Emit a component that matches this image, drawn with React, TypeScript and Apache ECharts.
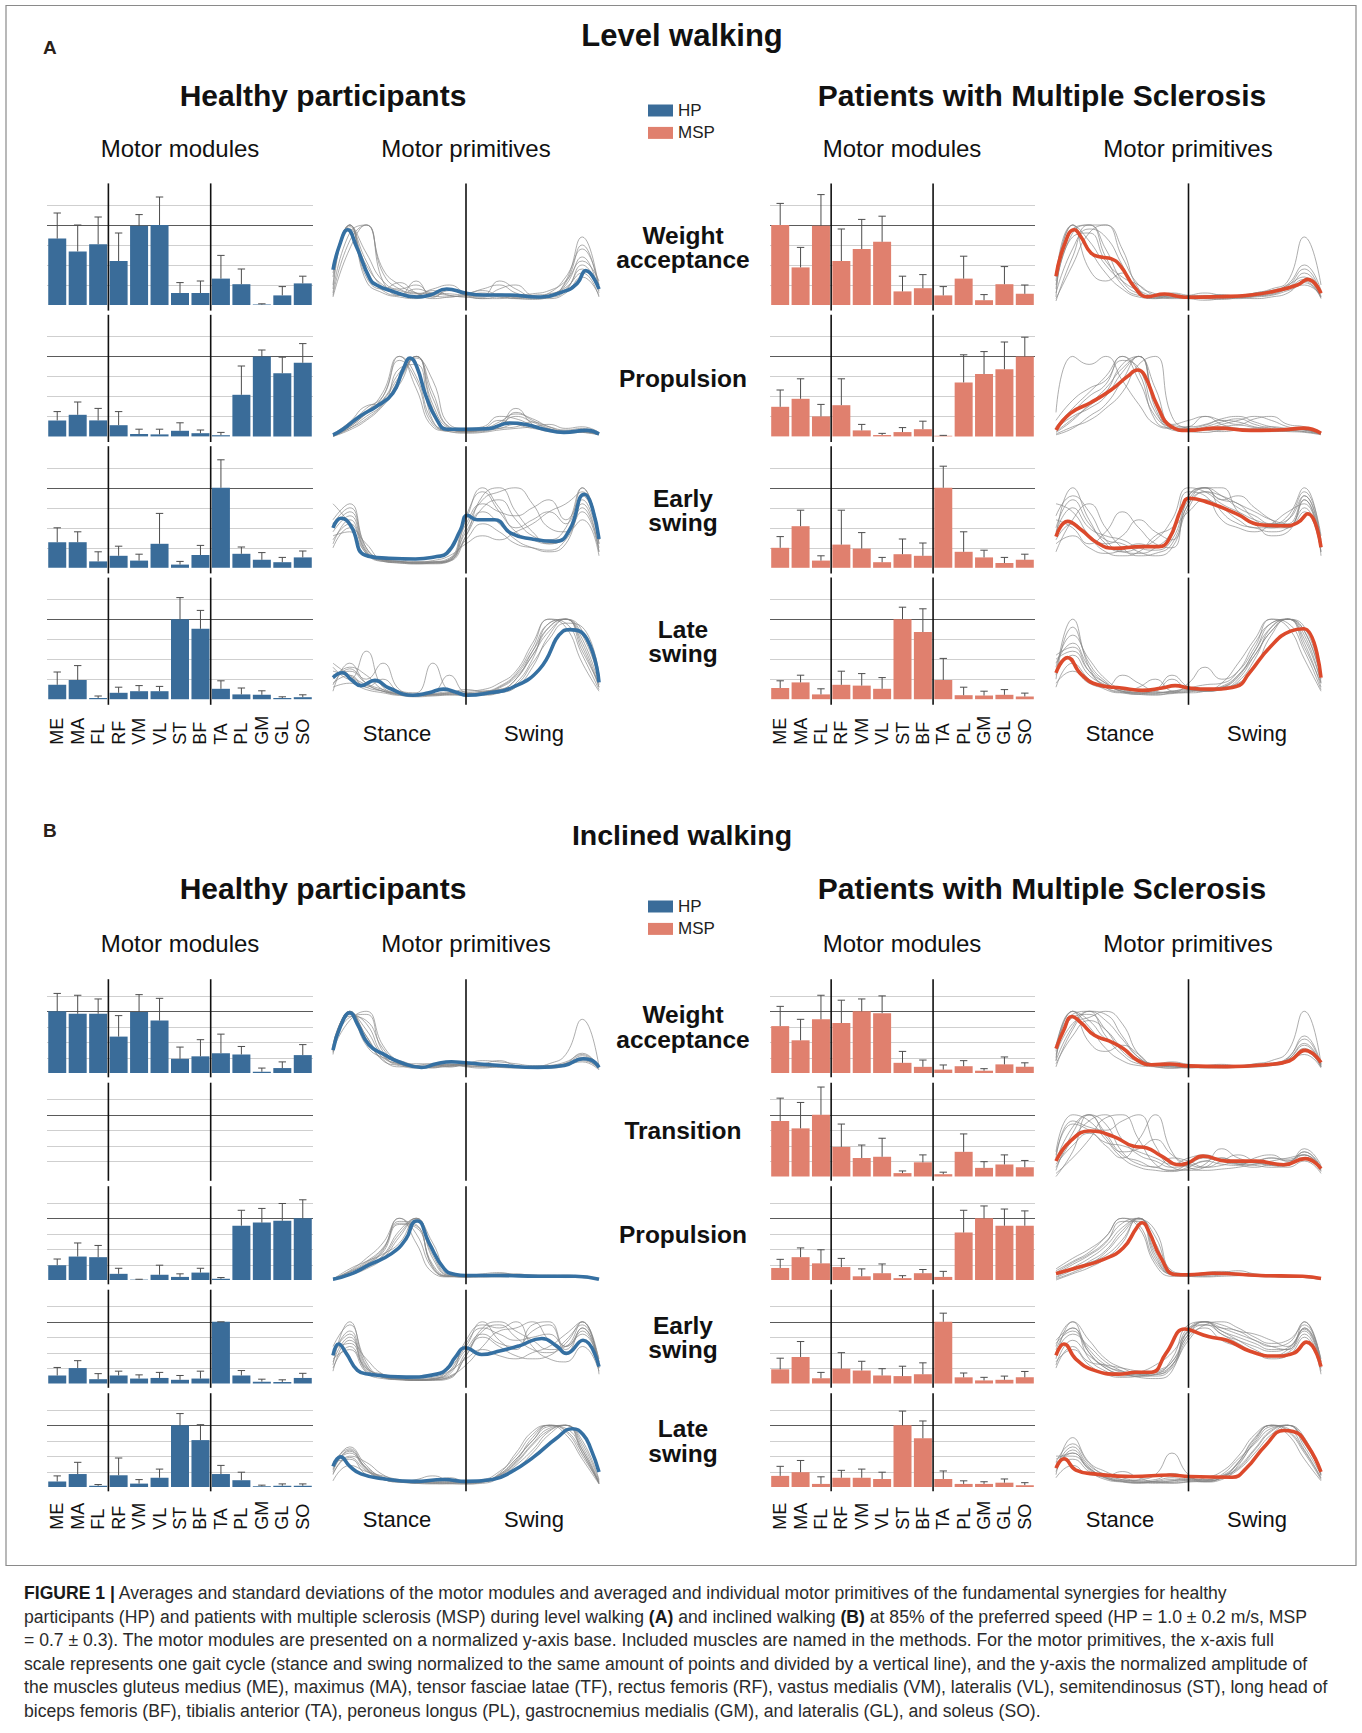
import React, { useEffect, useRef } from 'react';
import * as echarts from 'echarts';

// ---------- categories & ticks ----------
const muscles = ['ME', 'MA', 'FL', 'RF', 'VM', 'VL', 'ST', 'BF', 'TA', 'PL', 'GM', 'GL', 'SO'];
const gridValues = [25, 50, 75, 100, 125];
const groupBreaks = [2, 7]; // after FL (hip) and after BF (thigh)
const phaseBreak = [100]; // stance | swing
const primX = [0, 12.5, 25, 37.5, 50, 62.5, 75, 87.5, 100, 112.5, 125, 137.5, 150, 162.5, 175, 187.5, 200];

// ---------- A: level walking, motor modules (mean, mean+SD) ----------
const levelHP_WA_mean = [83, 67, 76, 55, 99, 100, 15, 15, 33, 26, 0.5, 12, 27];
const levelHP_WA_upper = [115, 100, 110, 90, 113, 135, 28, 30, 62, 45, 1.5, 23, 36];
const levelHP_PR_mean = [20, 27, 20, 14, 3, 2.5, 7, 4, 1.5, 52, 100, 79, 92];
const levelHP_PR_upper = [31, 43, 35, 31, 9, 9, 17, 8, 5, 88, 108, 99, 116];
const levelHP_ES_mean = [32, 32, 8, 15, 9, 30, 4, 16, 100, 17.5, 10, 7, 13];
const levelHP_ES_upper = [50, 45, 20, 27, 17, 68, 8, 28, 135, 26, 19, 13, 21];
const levelHP_LS_mean = [18, 24, 1.5, 8, 10, 10, 100, 88, 13, 6, 5.5, 1.5, 2.5];
const levelHP_LS_upper = [34, 42, 4, 15, 17, 16, 127, 111, 23, 14, 10.5, 3, 5.5];

const levelMSP_WA_mean = [100, 47, 99, 55, 70, 79, 17, 21, 12, 33, 6, 26, 14];
const levelMSP_WA_upper = [127, 72, 138, 95, 107, 111, 36, 38, 23, 61, 13, 48, 25];
const levelMSP_PR_mean = [37, 47, 25, 39, 7.5, 1.7, 5.4, 9, 0.8, 67.5, 78, 84, 100];
const levelMSP_PR_upper = [58, 72, 40, 72, 15, 3.8, 11, 19, 1.3, 102, 106, 118, 124];
const levelMSP_ES_mean = [25, 52, 9, 29, 24, 7, 17, 15, 100, 20, 13, 6, 10];
const levelMSP_ES_upper = [39, 72, 15, 72, 44, 13, 36, 31, 127, 45, 22, 13, 17];
const levelMSP_LS_mean = [14, 21, 6, 18, 17, 13, 100, 84, 24, 5, 4.6, 5.5, 3.4];
const levelMSP_LS_upper = [23, 30, 13, 35, 32, 27, 115, 113, 51, 15, 10, 12, 7.6];

// ---------- B: inclined walking, motor modules ----------
const inclHP_WA_mean = [100, 96, 96, 59, 99, 85, 23, 27, 32, 30, 2, 8, 29];
const inclHP_WA_upper = [129, 126, 120, 93, 127, 121, 42, 54, 63, 43, 8, 18, 46];
const inclHP_PR_mean = [24, 38, 37, 10, 0.6, 8.5, 5, 12, 2, 88, 93, 96, 100];
const inclHP_PR_upper = [34, 60, 56, 19, 1.2, 24, 10, 19, 4, 113, 116, 124, 130];
const inclHP_ES_mean = [13, 25, 7, 13, 8, 9, 6, 8, 100, 13, 3, 2.4, 9];
const inclHP_ES_upper = [26, 37, 16, 20, 14, 18, 13, 20, 100, 21, 7, 6, 16.5];
const inclHP_LS_mean = [9, 21, 2, 19, 5.5, 15, 100, 76, 21, 11, 1.2, 2, 2];
const inclHP_LS_upper = [18, 40, 4, 47, 12, 29, 119, 101, 35, 24, 3, 5, 5];

const inclMSP_WA_mean = [76, 53, 87, 81, 100, 97, 16.5, 10, 5.5, 11, 3.7, 14, 10];
const inclMSP_WA_upper = [108, 87, 126, 118, 120, 125, 35, 21, 13, 20, 7, 26, 16.5];
const inclMSP_TR_mean = [90, 78, 100, 48, 30, 32, 5.5, 23, 3.7, 40, 14, 19.5, 15];
const inclMSP_TR_upper = [127, 120, 145, 85, 51, 62, 9, 35, 7, 69, 24, 35, 26];
const inclMSP_PR_mean = [19.5, 37, 27, 21, 6, 11, 3, 11, 5, 77, 100, 88, 88];
const inclMSP_PR_upper = [33.5, 52, 49, 35, 18, 26, 7, 17, 14, 113, 120, 115, 112];
const inclMSP_ES_mean = [23, 43, 8.5, 24, 21, 13, 12, 15, 100, 10, 5, 6, 10];
const inclMSP_ES_upper = [41, 68, 18, 50, 36, 24, 28, 33.5, 114, 17, 10, 12, 19.5];
const inclMSP_LS_mean = [18, 24, 5, 15, 15, 13, 100, 79, 13, 5, 5, 7, 3];
const inclMSP_LS_upper = [33.5, 43, 16.5, 27, 29, 24, 123, 107, 26, 10, 8.5, 13, 7];

// ---------- motor primitives: averaged curves [gait-cycle point, amplitude] ----------
const levelHP_WA_prim = [[0, 44], [5, 75], [11, 94], [17.6, 73], [27.7, 33], [32.7, 25], [45, 17], [63, 10], [73, 12.5], [85.5, 20], [99.4, 15], [113, 12.5], [133, 12.5], [153.5, 10], [173.6, 17], [183.6, 27], [190, 43], [200, 20]];
const levelHP_PR_prim = [[0, 2], [7.5, 9], [20, 25], [32.7, 37.5], [45, 54], [53, 85], [58, 98], [63, 87], [70, 50], [78, 21], [85.5, 9], [99.4, 9], [115.7, 9.6], [133, 16.7], [146, 14.6], [158.5, 9], [173.6, 5], [191, 7.5], [200, 3]];
const levelHP_ES_prim = [[0, 50], [6, 62], [13.6, 52], [24, 16], [42, 12], [62, 11], [78, 14], [85.5, 18], [95.8, 47], [100.9, 65.5], [108.6, 60], [121.4, 60], [134, 43], [149.7, 36], [167.6, 33], [177.9, 47.5], [189, 92], [194, 80], [200, 36]];
const levelHP_LS_prim = [[0, 27], [7, 33], [14, 24], [21, 17], [31.5, 23.5], [42, 14], [60, 5], [72, 8], [83, 12.6], [92, 9], [101, 5], [119, 8.4], [134, 14], [155, 37], [173, 85], [178, 87], [191, 75], [200, 21]];
const levelMSP_WA_prim = [[0, 36], [6.3, 75], [13.8, 94], [18.9, 85], [26.4, 65], [34, 60], [41.5, 58], [49, 48], [59, 23], [69, 10.4], [81.8, 13.8], [91.8, 11], [99.4, 9.6], [122, 10.4], [147, 12.5], [167, 18], [182, 25], [190, 32], [200, 14.6]];
const levelMSP_PR_prim = [[0, 8], [11, 29], [26, 42], [41.5, 58], [54, 75], [61.6, 83], [66.7, 77], [76.7, 37.5], [86.8, 12.5], [99.4, 7.5], [122, 10.4], [147, 7.5], [172, 8.3], [187, 10.4], [200, 4]];
const levelMSP_ES_prim = [[0, 39], [8.7, 58], [19, 47.5], [31.6, 30.7], [44, 24.4], [65, 26.5], [77.5, 26.5], [85, 35], [95.4, 77], [100.5, 87], [116, 81], [136, 67.6], [154, 53.8], [172, 52.5], [182, 56], [190, 67.6], [200, 25.6]];
const levelMSP_LS_prim = [[0, 33], [8.7, 52], [19, 31], [31.6, 18], [49.5, 14], [65, 11], [80, 14], [90, 17], [100.5, 14], [116, 12.6], [136, 16], [146, 33], [162, 66], [177, 85], [187, 88], [200, 27]];

const inclHP_WA_prim = [[0, 37], [5.7, 76], [12.7, 97.6], [18.4, 79], [27, 45.7], [38, 30.5], [49.5, 18.3], [66.5, 9], [77.8, 15], [89, 18.3], [99.6, 16.5], [126, 12.2], [154, 9.1], [174, 12.2], [188, 23], [194, 21], [200, 9]];
const inclHP_PR_prim = [[0, 1.2], [12.7, 9], [27, 24.4], [44, 42.7], [55, 67], [61, 94.5], [63.6, 95.7], [72, 61], [83.5, 18.3], [92, 9], [99.6, 7.3], [126, 7.3], [154, 6], [182, 6], [200, 1.2]];
const inclHP_ES_prim = [[0, 45.7], [4.2, 64], [10, 48.8], [18.4, 21.3], [27, 15.2], [55, 10.4], [78, 15.2], [86, 24.4], [92, 42.7], [99.6, 58], [111.7, 47], [126, 53], [140, 61], [157, 73], [168, 61], [175.4, 48.8], [188, 70], [200, 27.4]];
const inclHP_LS_prim = [[0, 33.5], [5.7, 48.8], [12.7, 33.5], [21, 21.3], [38, 13.4], [61, 9.1], [83.5, 12.2], [99.6, 9.1], [120, 12.2], [134, 24.4], [151, 48.8], [168, 79], [180, 94.5], [188, 85], [194, 61], [200, 24.4]];
const inclMSP_WA_prim = [[0, 39.6], [6, 70], [12, 91.5], [18.6, 82], [29, 61], [40, 52], [50.7, 39.6], [61, 21.3], [72, 13.4], [86, 14.6], [99.6, 11.6], [129, 10.4], [158, 13.4], [176, 19.5], [188, 36.6], [200, 17]];
const inclMSP_TR_prim = [[0, 25], [11.4, 58.5], [25.7, 73.8], [43.6, 64.6], [58, 49.4], [68.6, 46.3], [79, 34], [93.6, 19], [99.6, 22], [111, 33], [129, 25], [151, 25], [172, 19], [188, 29], [200, 12.8]];
const inclMSP_PR_prim = [[0, 10.4], [15, 19.5], [36, 33.5], [50.7, 51.8], [61, 85], [65, 92.7], [70, 79], [79, 36.6], [90, 9], [99.6, 8.5], [118.6, 11], [154, 7.3], [186, 6], [200, 2.4]];
const inclMSP_ES_prim = [[0, 45.7], [6, 64], [15, 39.6], [29, 21.3], [47, 15.2], [61, 18.3], [72, 18.3], [83, 48.8], [97, 88.4], [100.7, 87], [115, 76], [129, 70], [147, 51.8], [165, 44.5], [179, 48.8], [189, 67], [200, 27.4]];
const inclMSP_LS_prim = [[0, 30.5], [6, 45.7], [15, 27.4], [29, 21.3], [58, 17], [86, 19.5], [100.7, 17], [133, 15.9], [143.6, 30.5], [158, 67], [172, 91.5], [179, 90], [190, 67], [200, 24.4]];

// ---------- motor primitives: individual curves (amplitude at primX) ----------
const levelHP_WA_indiv = [
  [20, 100, 55, 22, 15, 12, 18, 12, 10, 8, 10, 8, 7, 10, 25, 60, 15],
  [45, 100, 40, 18, 12, 20, 15, 14, 12, 10, 12, 9, 8, 10, 30, 85, 20],
  [10, 70, 100, 45, 25, 15, 10, 20, 15, 20, 25, 15, 10, 12, 20, 45, 25],
  [35, 100, 35, 20, 28, 15, 8, 10, 12, 15, 10, 8, 12, 14, 22, 40, 10],
  [15, 90, 100, 30, 12, 30, 10, 18, 15, 12, 30, 20, 10, 8, 15, 35, 12],
  [50, 98, 30, 15, 10, 8, 15, 20, 12, 8, 8, 12, 14, 18, 30, 55, 30],
  [25, 100, 65, 30, 20, 25, 12, 10, 14, 18, 12, 10, 9, 12, 28, 75, 18],
  [40, 95, 50, 25, 18, 14, 20, 25, 15, 12, 14, 10, 10, 15, 35, 70, 25],
  [12, 80, 100, 40, 20, 15, 14, 12, 10, 10, 20, 25, 12, 10, 18, 50, 20],
];
const levelHP_PR_indiv = [
  [2, 15, 35, 50, 95, 70, 15, 8, 8, 10, 20, 15, 10, 8, 5, 8, 3],
  [0, 12, 28, 45, 75, 100, 40, 10, 6, 8, 12, 30, 20, 10, 6, 5, 2],
  [3, 18, 38, 42, 85, 90, 20, 6, 5, 6, 10, 12, 18, 12, 8, 10, 4],
  [1, 10, 22, 40, 70, 100, 55, 12, 8, 10, 15, 35, 15, 6, 5, 6, 2],
  [2, 14, 30, 50, 100, 60, 12, 6, 4, 5, 8, 10, 12, 15, 10, 12, 5],
  [0, 8, 20, 38, 65, 98, 70, 15, 10, 12, 25, 22, 14, 8, 4, 5, 2],
  [1, 12, 30, 55, 100, 75, 18, 8, 6, 7, 14, 25, 18, 9, 6, 7, 3],
  [2, 16, 32, 46, 80, 100, 35, 9, 7, 9, 18, 28, 22, 12, 7, 8, 3],
  [0, 10, 25, 40, 72, 100, 48, 11, 6, 8, 10, 15, 12, 9, 6, 6, 2],
];
const levelHP_ES_indiv = [
  [30, 60, 20, 8, 6, 5, 6, 8, 40, 90, 100, 70, 45, 30, 40, 85, 30],
  [60, 80, 25, 10, 8, 6, 7, 10, 60, 100, 75, 50, 60, 70, 55, 100, 40],
  [40, 45, 15, 12, 10, 8, 8, 12, 35, 55, 45, 30, 25, 22, 35, 70, 20],
  [80, 55, 18, 8, 7, 6, 6, 9, 50, 85, 95, 100, 80, 50, 45, 60, 15],
  [25, 50, 30, 10, 8, 7, 9, 15, 30, 40, 35, 45, 55, 70, 80, 95, 35],
  [50, 70, 22, 9, 6, 5, 5, 8, 45, 70, 55, 35, 25, 20, 30, 75, 25],
  [45, 65, 20, 10, 8, 6, 7, 10, 55, 80, 70, 65, 75, 85, 60, 90, 30],
  [35, 55, 18, 9, 7, 6, 6, 9, 40, 75, 85, 60, 40, 35, 50, 100, 35],
  [55, 75, 25, 11, 8, 7, 7, 11, 65, 95, 70, 45, 35, 30, 40, 80, 20],
];
const levelHP_LS_indiv = [
  [10, 45, 20, 10, 5, 3, 4, 5, 5, 6, 8, 15, 40, 80, 100, 70, 15],
  [40, 25, 60, 15, 8, 5, 6, 8, 10, 12, 20, 35, 70, 100, 90, 45, 10],
  [20, 30, 15, 25, 10, 8, 45, 10, 5, 5, 8, 20, 50, 95, 100, 60, 20],
  [30, 35, 20, 12, 6, 4, 5, 6, 6, 8, 15, 30, 60, 90, 100, 80, 25],
  [15, 20, 12, 8, 5, 5, 8, 30, 8, 6, 10, 25, 55, 85, 100, 75, 18],
  [45, 30, 18, 10, 7, 5, 6, 7, 8, 10, 12, 18, 45, 75, 95, 90, 30],
  [25, 40, 30, 12, 7, 5, 6, 8, 12, 10, 12, 25, 60, 95, 100, 65, 15],
  [35, 28, 15, 10, 6, 5, 7, 9, 7, 8, 14, 28, 55, 90, 100, 85, 22],
  [18, 38, 25, 45, 12, 6, 5, 6, 7, 9, 16, 32, 65, 100, 95, 55, 12],
];
const levelMSP_WA_indiv = [
  [10, 100, 70, 40, 20, 10, 8, 12, 10, 8, 10, 12, 15, 20, 30, 85, 25],
  [30, 95, 100, 60, 25, 12, 10, 8, 8, 10, 12, 10, 12, 15, 25, 35, 10],
  [5, 60, 100, 100, 70, 20, 10, 15, 12, 10, 8, 8, 10, 12, 18, 25, 12],
  [40, 100, 45, 30, 40, 15, 8, 10, 12, 15, 12, 10, 8, 10, 15, 30, 8],
  [20, 85, 90, 55, 35, 25, 12, 10, 8, 6, 8, 10, 15, 18, 22, 40, 15],
  [15, 70, 95, 85, 50, 15, 10, 14, 10, 8, 7, 9, 11, 14, 20, 28, 10],
  [25, 90, 100, 70, 30, 14, 10, 9, 9, 11, 13, 11, 13, 16, 24, 45, 14],
  [35, 100, 80, 50, 30, 18, 12, 12, 10, 9, 10, 12, 14, 18, 26, 50, 18],
  [8, 50, 90, 100, 60, 25, 14, 10, 11, 12, 10, 9, 11, 13, 21, 32, 9],
];
const levelMSP_PR_indiv = [
  [30, 100, 90, 100, 70, 40, 15, 10, 12, 25, 20, 15, 22, 25, 15, 12, 5],
  [5, 20, 40, 60, 85, 100, 35, 8, 6, 5, 8, 10, 8, 7, 6, 5, 2],
  [2, 10, 25, 40, 70, 100, 60, 12, 8, 10, 15, 20, 25, 20, 12, 8, 3],
  [8, 30, 50, 65, 100, 80, 20, 10, 8, 12, 18, 22, 15, 10, 8, 6, 3],
  [3, 12, 20, 35, 55, 90, 100, 25, 10, 8, 6, 8, 10, 12, 10, 8, 4],
  [10, 25, 35, 50, 80, 100, 45, 15, 20, 25, 15, 10, 8, 6, 7, 9, 5],
  [12, 35, 55, 75, 100, 70, 25, 12, 10, 14, 20, 18, 12, 9, 8, 10, 4],
  [6, 22, 38, 55, 90, 100, 40, 10, 8, 9, 12, 14, 11, 8, 7, 6, 3],
  [20, 45, 60, 70, 95, 85, 30, 14, 12, 15, 22, 25, 18, 12, 9, 8, 4],
];
const levelMSP_ES_indiv = [
  [40, 100, 60, 30, 20, 25, 35, 60, 100, 95, 80, 70, 60, 55, 65, 100, 30],
  [60, 50, 30, 45, 70, 50, 30, 25, 90, 100, 85, 90, 75, 60, 50, 70, 20],
  [20, 60, 80, 50, 25, 15, 18, 30, 80, 100, 100, 70, 55, 40, 45, 85, 25],
  [80, 70, 40, 20, 15, 20, 40, 50, 70, 85, 75, 60, 50, 50, 60, 95, 40],
  [30, 40, 25, 18, 22, 30, 25, 40, 95, 90, 60, 50, 45, 55, 70, 80, 15],
  [50, 85, 55, 35, 30, 20, 15, 25, 75, 95, 90, 80, 70, 60, 55, 90, 30],
  [45, 75, 50, 40, 35, 25, 22, 35, 85, 100, 90, 75, 65, 55, 60, 90, 35],
  [65, 90, 70, 35, 20, 18, 25, 45, 90, 100, 70, 55, 50, 45, 50, 75, 20],
  [35, 55, 40, 30, 40, 60, 45, 35, 80, 95, 85, 80, 60, 50, 50, 85, 30],
];
const levelMSP_LS_indiv = [
  [30, 100, 40, 15, 8, 6, 5, 8, 10, 12, 15, 30, 60, 95, 100, 70, 15],
  [50, 60, 35, 20, 10, 8, 12, 30, 15, 10, 12, 25, 55, 85, 100, 85, 25],
  [15, 45, 25, 12, 8, 15, 25, 10, 8, 10, 20, 45, 75, 100, 95, 60, 12],
  [40, 80, 50, 25, 12, 8, 6, 7, 9, 12, 15, 20, 40, 80, 100, 90, 30],
  [20, 35, 20, 15, 30, 20, 10, 8, 20, 40, 25, 35, 65, 100, 90, 50, 10],
  [35, 55, 30, 18, 10, 7, 8, 10, 12, 10, 12, 22, 50, 90, 100, 80, 20],
  [45, 70, 40, 20, 12, 10, 8, 10, 14, 18, 20, 35, 70, 95, 100, 65, 20],
  [25, 90, 45, 22, 10, 8, 10, 25, 12, 10, 14, 28, 60, 90, 100, 75, 22],
  [55, 65, 35, 15, 9, 6, 7, 9, 11, 12, 16, 30, 55, 85, 100, 85, 28],
];
const inclHP_WA_indiv = [
  [35, 100, 60, 20, 12, 8, 10, 15, 12, 10, 9, 8, 10, 15, 30, 87, 10],
  [40, 90, 95, 35, 15, 10, 12, 10, 15, 20, 18, 15, 12, 12, 15, 20, 8],
  [30, 100, 45, 25, 20, 12, 8, 14, 10, 8, 10, 9, 8, 10, 14, 22, 6],
  [45, 95, 80, 30, 14, 15, 14, 12, 14, 12, 12, 10, 9, 8, 12, 25, 12],
  [38, 85, 100, 45, 18, 10, 9, 11, 16, 14, 11, 10, 10, 12, 18, 30, 10],
  [42, 100, 55, 22, 10, 12, 15, 10, 13, 15, 20, 12, 9, 9, 13, 18, 5],
  [36, 98, 70, 28, 14, 10, 11, 13, 12, 11, 10, 9, 9, 10, 14, 24, 8],
  [44, 92, 85, 40, 16, 12, 10, 12, 14, 13, 12, 11, 10, 11, 15, 28, 10],
  [33, 100, 60, 25, 15, 11, 12, 14, 11, 10, 11, 10, 10, 11, 16, 32, 9],
];
const inclHP_PR_indiv = [
  [0, 10, 25, 45, 90, 85, 25, 6, 5, 8, 10, 8, 6, 5, 4, 5, 1],
  [2, 15, 35, 60, 100, 60, 12, 5, 6, 5, 7, 9, 8, 6, 5, 6, 2],
  [1, 8, 18, 35, 70, 100, 45, 8, 5, 6, 8, 6, 5, 7, 8, 5, 1],
  [0, 12, 28, 50, 95, 90, 20, 6, 7, 10, 12, 8, 6, 5, 6, 4, 1],
  [3, 10, 22, 40, 80, 100, 35, 7, 6, 5, 5, 6, 8, 8, 6, 5, 2],
  [1, 18, 30, 42, 60, 98, 60, 10, 5, 6, 9, 10, 7, 5, 4, 4, 1],
  [2, 14, 30, 52, 92, 88, 22, 6, 6, 7, 9, 7, 6, 5, 5, 5, 1],
  [1, 9, 20, 38, 75, 100, 40, 7, 5, 6, 8, 7, 6, 6, 5, 4, 1],
  [0, 13, 26, 48, 100, 75, 18, 6, 6, 6, 7, 8, 7, 6, 5, 5, 2],
];
const inclHP_ES_indiv = [
  [30, 100, 35, 10, 6, 5, 6, 10, 45, 90, 100, 85, 70, 55, 60, 100, 25],
  [50, 80, 20, 12, 8, 6, 7, 25, 60, 100, 70, 55, 95, 100, 60, 80, 35],
  [25, 60, 25, 15, 10, 8, 10, 20, 40, 55, 45, 40, 50, 60, 80, 100, 15],
  [60, 95, 30, 10, 7, 6, 8, 15, 70, 95, 90, 100, 60, 40, 35, 60, 20],
  [40, 55, 18, 8, 6, 5, 6, 12, 30, 60, 85, 90, 100, 70, 50, 90, 40],
  [20, 70, 40, 15, 8, 6, 5, 8, 50, 75, 60, 45, 40, 45, 70, 95, 30],
  [45, 85, 28, 12, 7, 6, 7, 18, 55, 80, 65, 60, 85, 95, 55, 85, 30],
  [35, 75, 25, 10, 7, 5, 6, 10, 45, 85, 95, 75, 55, 50, 65, 100, 35],
  [55, 65, 22, 11, 8, 6, 8, 20, 65, 90, 80, 70, 75, 80, 60, 90, 25],
];
const inclHP_LS_indiv = [
  [25, 60, 30, 15, 10, 8, 6, 5, 5, 8, 20, 45, 75, 100, 95, 60, 5],
  [40, 45, 20, 12, 8, 6, 10, 15, 10, 12, 25, 50, 85, 100, 90, 50, 8],
  [10, 35, 25, 18, 12, 10, 8, 6, 5, 6, 15, 35, 60, 90, 100, 70, 10],
  [30, 65, 35, 14, 8, 12, 18, 10, 6, 8, 18, 40, 70, 95, 100, 55, 6],
  [20, 50, 40, 20, 10, 6, 5, 6, 8, 10, 22, 55, 90, 100, 85, 45, 5],
  [35, 55, 28, 12, 9, 7, 8, 9, 8, 9, 16, 30, 55, 85, 100, 75, 12],
  [28, 58, 32, 16, 10, 7, 7, 7, 7, 9, 19, 42, 80, 100, 92, 55, 6],
  [22, 48, 26, 14, 9, 8, 9, 10, 8, 10, 20, 45, 75, 98, 100, 60, 8],
  [38, 62, 30, 13, 8, 7, 6, 7, 7, 8, 17, 38, 68, 92, 100, 65, 7],
];
const inclMSP_WA_indiv = [
  [20, 100, 75, 40, 20, 12, 10, 8, 10, 12, 14, 12, 15, 20, 35, 100, 15],
  [40, 95, 100, 95, 60, 25, 12, 10, 8, 10, 12, 10, 10, 12, 18, 40, 10],
  [10, 70, 100, 60, 30, 15, 12, 14, 12, 10, 9, 10, 12, 15, 25, 55, 12],
  [45, 100, 50, 35, 45, 30, 10, 8, 10, 12, 10, 9, 11, 14, 20, 30, 8],
  [30, 80, 90, 100, 80, 30, 14, 12, 10, 8, 8, 9, 10, 12, 18, 35, 10],
  [15, 60, 85, 70, 40, 20, 15, 18, 14, 12, 11, 12, 14, 16, 22, 45, 14],
  [25, 90, 95, 70, 35, 18, 13, 11, 10, 11, 12, 11, 12, 14, 22, 48, 12],
  [35, 100, 85, 55, 40, 22, 13, 10, 9, 10, 11, 10, 11, 13, 20, 38, 10],
  [20, 75, 100, 85, 55, 25, 14, 12, 11, 10, 10, 11, 13, 15, 24, 60, 14],
];
const inclMSP_TR_indiv = [
  [10, 70, 100, 85, 40, 20, 15, 10, 12, 20, 45, 30, 25, 30, 25, 35, 10],
  [40, 100, 90, 60, 30, 15, 10, 8, 15, 25, 20, 18, 30, 35, 25, 40, 15],
  [5, 30, 60, 95, 100, 60, 20, 10, 20, 30, 25, 20, 18, 15, 18, 30, 8],
  [20, 50, 70, 50, 30, 60, 100, 40, 15, 10, 12, 15, 20, 25, 30, 35, 12],
  [0, 40, 100, 70, 35, 25, 15, 30, 25, 15, 18, 25, 22, 18, 15, 25, 5],
  [30, 90, 80, 75, 90, 100, 50, 15, 10, 15, 30, 20, 15, 20, 22, 45, 18],
  [15, 60, 90, 100, 60, 35, 25, 15, 18, 25, 30, 22, 20, 22, 20, 30, 10],
  [25, 80, 100, 65, 40, 45, 60, 35, 20, 15, 25, 35, 25, 18, 20, 40, 12],
  [35, 85, 75, 55, 50, 40, 30, 20, 30, 35, 25, 20, 25, 30, 28, 35, 15],
];
const inclMSP_PR_indiv = [
  [5, 20, 35, 55, 85, 100, 40, 8, 6, 8, 10, 8, 7, 6, 5, 5, 2],
  [15, 30, 45, 70, 100, 85, 25, 6, 8, 12, 14, 10, 8, 7, 6, 6, 3],
  [0, 10, 20, 35, 60, 100, 70, 12, 6, 5, 6, 7, 8, 6, 5, 4, 1],
  [10, 25, 40, 60, 95, 95, 35, 10, 8, 10, 12, 15, 10, 8, 6, 5, 2],
  [2, 12, 25, 45, 75, 100, 55, 9, 7, 6, 8, 9, 9, 7, 5, 4, 1],
  [8, 18, 28, 40, 65, 98, 80, 15, 10, 9, 10, 8, 6, 5, 5, 6, 2],
  [12, 28, 42, 62, 92, 100, 45, 10, 8, 10, 12, 11, 9, 7, 6, 5, 2],
  [4, 16, 30, 48, 80, 100, 60, 12, 8, 8, 9, 10, 8, 7, 6, 5, 2],
  [18, 35, 50, 70, 100, 90, 30, 9, 7, 9, 11, 9, 8, 6, 5, 5, 2],
];
const inclMSP_ES_indiv = [
  [40, 100, 50, 25, 15, 12, 15, 40, 95, 100, 90, 80, 70, 60, 55, 100, 30],
  [70, 90, 40, 20, 12, 18, 30, 50, 85, 100, 85, 70, 55, 45, 50, 80, 20],
  [25, 60, 35, 30, 25, 20, 18, 30, 70, 95, 100, 90, 75, 65, 70, 95, 35],
  [50, 80, 60, 35, 20, 10, 8, 20, 90, 95, 80, 65, 50, 40, 45, 75, 15],
  [35, 55, 30, 15, 10, 12, 20, 35, 80, 100, 95, 85, 80, 70, 60, 90, 40],
  [60, 100, 70, 40, 25, 15, 12, 25, 75, 90, 70, 60, 50, 45, 55, 85, 25],
  [55, 90, 55, 30, 18, 14, 18, 35, 85, 100, 85, 75, 65, 55, 55, 90, 30],
  [30, 70, 45, 28, 20, 15, 15, 30, 80, 95, 90, 85, 70, 60, 65, 100, 35],
  [65, 85, 50, 25, 15, 12, 14, 28, 88, 100, 80, 70, 60, 52, 58, 88, 28],
];
const inclMSP_LS_indiv = [
  [30, 65, 35, 20, 12, 8, 6, 8, 10, 8, 12, 35, 75, 100, 95, 60, 15],
  [50, 50, 30, 15, 10, 12, 20, 55, 20, 10, 15, 40, 80, 100, 85, 45, 10],
  [20, 80, 40, 25, 15, 10, 8, 6, 8, 10, 20, 45, 70, 95, 100, 70, 25],
  [40, 45, 25, 12, 8, 6, 10, 15, 12, 12, 18, 30, 60, 90, 100, 80, 20],
  [15, 35, 20, 18, 25, 15, 8, 7, 9, 15, 25, 50, 85, 100, 90, 55, 12],
  [35, 55, 30, 15, 9, 7, 8, 10, 12, 9, 14, 28, 55, 85, 100, 75, 18],
  [40, 70, 38, 18, 10, 8, 8, 10, 14, 12, 18, 40, 78, 100, 92, 58, 14],
  [25, 60, 32, 16, 12, 10, 12, 22, 15, 10, 16, 38, 72, 98, 100, 65, 20],
  [45, 55, 28, 14, 9, 7, 9, 12, 10, 9, 15, 32, 62, 92, 100, 72, 22],
];

// ---------- text ----------
const levelLabels = [['Weight', 'acceptance'], ['Propulsion'], ['Early', 'swing'], ['Late', 'swing']];
const inclinedLabels = [['Weight', 'acceptance'], ['Transition'], ['Propulsion'], ['Early', 'swing'], ['Late', 'swing']];
const captionLines = [
  '{b|FIGURE 1 |} Averages and standard deviations of the motor modules and averaged and individual motor primitives of the fundamental synergies for healthy',
  'participants (HP) and patients with multiple sclerosis (MSP) during level walking {b|(A)} and inclined walking {b|(B)} at 85% of the preferred speed (HP = 1.0 ± 0.2 m/s, MSP',
  '= 0.7 ± 0.3). The motor modules are presented on a normalized y-axis base. Included muscles are named in the methods. For the motor primitives, the x-axis full',
  'scale represents one gait cycle (stance and swing normalized to the same amount of points and divided by a vertical line), and the y-axis the normalized amplitude of',
  'the muscles gluteus medius (ME), maximus (MA), tensor fasciae latae (TF), rectus femoris (RF), vastus medialis (VM), lateralis (VL), semitendinosus (ST), long head of',
  'biceps femoris (BF), tibialis anterior (TA), peroneus longus (PL), gastrocnemius medialis (GM), and lateralis (GL), and soleus (SO).',
];

// ---------- style ----------
const FONT = 'Liberation Sans, Arial, Helvetica, sans-serif';
const HP_BAR = '#3a6c99';
const MSP_BAR = '#e0806e';
const HP_LINE = '#3570a2';
const MSP_LINE = '#dc4a2c';
const Y_MIN = -7;
const Y_MAX = 152;

const levelRows = [
  { label: levelLabels[0], hp: { mean: levelHP_WA_mean, upper: levelHP_WA_upper, prim: levelHP_WA_prim, indiv: levelHP_WA_indiv }, msp: { mean: levelMSP_WA_mean, upper: levelMSP_WA_upper, prim: levelMSP_WA_prim, indiv: levelMSP_WA_indiv } },
  { label: levelLabels[1], hp: { mean: levelHP_PR_mean, upper: levelHP_PR_upper, prim: levelHP_PR_prim, indiv: levelHP_PR_indiv }, msp: { mean: levelMSP_PR_mean, upper: levelMSP_PR_upper, prim: levelMSP_PR_prim, indiv: levelMSP_PR_indiv } },
  { label: levelLabels[2], hp: { mean: levelHP_ES_mean, upper: levelHP_ES_upper, prim: levelHP_ES_prim, indiv: levelHP_ES_indiv }, msp: { mean: levelMSP_ES_mean, upper: levelMSP_ES_upper, prim: levelMSP_ES_prim, indiv: levelMSP_ES_indiv } },
  { label: levelLabels[3], hp: { mean: levelHP_LS_mean, upper: levelHP_LS_upper, prim: levelHP_LS_prim, indiv: levelHP_LS_indiv }, msp: { mean: levelMSP_LS_mean, upper: levelMSP_LS_upper, prim: levelMSP_LS_prim, indiv: levelMSP_LS_indiv } },
];
const inclinedRows = [
  { label: inclinedLabels[0], hp: { mean: inclHP_WA_mean, upper: inclHP_WA_upper, prim: inclHP_WA_prim, indiv: inclHP_WA_indiv }, msp: { mean: inclMSP_WA_mean, upper: inclMSP_WA_upper, prim: inclMSP_WA_prim, indiv: inclMSP_WA_indiv } },
  { label: inclinedLabels[1], hp: null, msp: { mean: inclMSP_TR_mean, upper: inclMSP_TR_upper, prim: inclMSP_TR_prim, indiv: inclMSP_TR_indiv } },
  { label: inclinedLabels[2], hp: { mean: inclHP_PR_mean, upper: inclHP_PR_upper, prim: inclHP_PR_prim, indiv: inclHP_PR_indiv }, msp: { mean: inclMSP_PR_mean, upper: inclMSP_PR_upper, prim: inclMSP_PR_prim, indiv: inclMSP_PR_indiv } },
  { label: inclinedLabels[3], hp: { mean: inclHP_ES_mean, upper: inclHP_ES_upper, prim: inclHP_ES_prim, indiv: inclHP_ES_indiv }, msp: { mean: inclMSP_ES_mean, upper: inclMSP_ES_upper, prim: inclMSP_ES_prim, indiv: inclMSP_ES_indiv } },
  { label: inclinedLabels[4], hp: { mean: inclHP_LS_mean, upper: inclHP_LS_upper, prim: inclHP_LS_prim, indiv: inclHP_LS_indiv }, msp: { mean: inclMSP_LS_mean, upper: inclMSP_LS_upper, prim: inclMSP_LS_prim, indiv: inclMSP_LS_indiv } },
];

const renderGridline = (params: any, api: any) => {
  const cs = params.coordSys;
  const v = api.value(1);
  const y = Math.round(api.coord([0, v])[1]) + 0.5;
  return {
    type: 'line',
    shape: { x1: cs.x, y1: y, x2: cs.x + cs.width, y2: y },
    style: { stroke: v === 100 ? '#5a5a5a' : '#cfcfcf', lineWidth: 1 },
  };
};
const renderCatBreak = (params: any, api: any) => {
  const cs = params.coordSys;
  const i = api.value(0);
  const x = (api.coord([i, 0])[0] + api.coord([i + 1, 0])[0]) / 2;
  return { type: 'line', shape: { x1: x, y1: cs.y, x2: x, y2: cs.y + cs.height }, style: { stroke: '#111', lineWidth: 1.6 } };
};
const renderValBreak = (params: any, api: any) => {
  const cs = params.coordSys;
  const x = api.coord([api.value(0), 0])[0];
  return { type: 'line', shape: { x1: x, y1: cs.y, x2: x, y2: cs.y + cs.height }, style: { stroke: '#111', lineWidth: 1.6 } };
};
const renderErr = (params: any, api: any) => {
  const i = api.value(0);
  const a = api.coord([i, api.value(1)]);
  const b = api.coord([i, api.value(2)]);
  const st = { stroke: '#4d4d4d', lineWidth: 1 };
  return {
    type: 'group',
    children: [
      { type: 'line', shape: { x1: a[0], y1: a[1], x2: b[0], y2: b[1] }, style: st },
      { type: 'line', shape: { x1: b[0] - 3.7, y1: b[1], x2: b[0] + 3.7, y2: b[1] }, style: st },
    ],
  };
};

function buildOption() {
  const grid: any[] = [];
  const xAxis: any[] = [];
  const yAxis: any[] = [];
  const series: any[] = [];
  const graphic: any[] = [];

  const addGrid = (left: number, top: number, width: number, height: number, xa: any) => {
    const gi = grid.length;
    grid.push({ left, top, width, height, containLabel: false, outerBoundsMode: 'none' });
    xAxis.push({ ...xa, gridIndex: gi });
    yAxis.push({ type: 'value', min: Y_MIN, max: Y_MAX, show: false, gridIndex: gi, splitLine: { show: false } });
    return gi;
  };

  const barPanel = (left: number, width: number, top: number, height: number, d: any, color: string, name: string, showLabels: boolean, margin: number) => {
    const gi = addGrid(left, top, width, height, {
      type: 'category',
      data: muscles,
      axisLine: { show: false, onZero: false },
      axisTick: { show: false },
      splitLine: { show: false },
      axisLabel: showLabels
        ? { show: true, interval: 0, rotate: 90, align: 'left', verticalAlign: 'middle', margin, fontSize: 18, color: '#111', fontFamily: FONT, hideOverlap: false }
        : { show: false },
    });
    series.push({ type: 'custom', xAxisIndex: gi, yAxisIndex: gi, z: 1, silent: true, encode: { x: 0, y: 1 }, renderItem: renderGridline, data: gridValues.map((v) => [0, v]) });
    if (d) {
      series.push({ type: 'bar', name, xAxisIndex: gi, yAxisIndex: gi, data: d.mean, barWidth: 18, itemStyle: { color }, z: 2, silent: true });
      series.push({ type: 'custom', xAxisIndex: gi, yAxisIndex: gi, z: 3, silent: true, encode: { x: 0, y: [1, 2] }, renderItem: renderErr, data: d.mean.map((m: number, i: number) => [i, m, d.upper[i]]) });
    }
    series.push({ type: 'custom', xAxisIndex: gi, yAxisIndex: gi, z: 4, silent: true, encode: { x: 0, y: 1 }, renderItem: renderCatBreak, data: groupBreaks.map((b) => [b, 0]) });
  };

  const primPanel = (left: number, width: number, top: number, height: number, d: any, color: string, name: string) => {
    const gi = addGrid(left, top, width, height, { type: 'value', min: 0, max: 200, show: false, splitLine: { show: false } });
    if (d) {
      d.indiv.forEach((arr: number[]) => {
        series.push({
          type: 'line', xAxisIndex: gi, yAxisIndex: gi, silent: true, z: 2,
          data: primX.map((x, k) => [x, arr[k]]),
          smooth: 0.5, symbol: 'none',
          lineStyle: { color: '#858585', width: 0.85, opacity: 0.8 },
        });
      });
      series.push({
        type: 'line', name: name + ' primitive', xAxisIndex: gi, yAxisIndex: gi, silent: true, z: 3,
        data: d.prim, smooth: 0.5, symbol: 'none',
        lineStyle: { color, width: 3.6 },
      });
    }
    series.push({ type: 'custom', xAxisIndex: gi, yAxisIndex: gi, z: 4, silent: true, encode: { x: 0, y: 1 }, renderItem: renderValBreak, data: phaseBreak.map((b) => [b, 0]) });
  };

  const txt = (x: number, y: number, text: string, size: number, weight: string, align = 'center', extra: any = {}) => {
    graphic.push({
      type: 'text', x, y, silent: true,
      style: { text, fontSize: size, fontWeight: weight, fontFamily: FONT, fill: '#111', align, verticalAlign: 'middle', ...extra },
    });
  };

  const sections = [
    { rows: levelRows, base0: 305, step: 131.4, scale: 0.8, margin: 40, labelDy: -57.5, stanceDy: 34,
      letter: 'A', letterY: 47.5, title: 'Level walking', titleSize: 31, titleY: 35, headY: 95, subY: 148 },
    { rows: inclinedRows, base0: 1073, step: 103.5, scale: 0.617, margin: 38.5, labelDy: -46, stanceDy: 32,
      letter: 'B', letterY: 830, title: 'Inclined walking', titleSize: 28.5, titleY: 834.5, headY: 888, subY: 943 },
  ];

  const COL = { hpBar: [47, 266], hpPrim: [333, 266], mspBar: [770, 265], mspPrim: [1056, 265] };

  sections.forEach((s) => {
    const n = s.rows.length;
    s.rows.forEach((row: any, r: number) => {
      const base = s.base0 + s.step * r;
      const top = base - Y_MAX * s.scale;
      const height = (Y_MAX - Y_MIN) * s.scale;
      const last = r === n - 1;
      barPanel(COL.hpBar[0], COL.hpBar[1], top, height, row.hp, HP_BAR, 'HP', last, s.margin);
      primPanel(COL.hpPrim[0], COL.hpPrim[1], top, height, row.hp, HP_LINE, 'HP');
      barPanel(COL.mspBar[0], COL.mspBar[1], top, height, row.msp, MSP_BAR, 'MSP', last, s.margin);
      primPanel(COL.mspPrim[0], COL.mspPrim[1], top, height, row.msp, MSP_LINE, 'MSP');
      const lines: string[] = row.label;
      const cy = base + s.labelDy;
      lines.forEach((ln, k) => {
        txt(683, cy + (k - (lines.length - 1) / 2) * 24.5, ln, 24.5, 'bold');
      });
      if (last) {
        [COL.hpPrim, COL.mspPrim].forEach((c) => {
          txt(c[0] + 64, base + s.stanceDy, 'Stance', 22, 'normal');
          txt(c[0] + 201, base + s.stanceDy, 'Swing', 22, 'normal');
        });
      }
    });
    txt(43, s.letterY, s.letter, 19, 'bold', 'left', { fill: '#2a2119' });
    txt(682, s.titleY, s.title, s.titleSize, 'bold');
    txt(323, s.headY, 'Healthy participants', 30, 'bold');
    txt(1042, s.headY, 'Patients with Multiple Sclerosis', 30, 'bold');
    txt(180, s.subY, 'Motor modules', 24, 'normal');
    txt(466, s.subY, 'Motor primitives', 24, 'normal');
    txt(902, s.subY, 'Motor modules', 24, 'normal');
    txt(1188, s.subY, 'Motor primitives', 24, 'normal');
  });

  // caption
  captionLines.forEach((line, k) => {
    graphic.push({
      type: 'text', x: 24, y: 1593 + k * 23.5, silent: true,
      style: {
        text: line, fontSize: 17.6, fontFamily: FONT, fill: '#2b2b2b', align: 'left', verticalAlign: 'middle',
        rich: { b: { fontSize: 17.6, fontWeight: 'bold', fontFamily: FONT, fill: '#1a1a1a' } },
      },
    });
  });

  // frame
  graphic.push({
    type: 'rect', silent: true, z: -10,
    shape: { x: 6, y: 5.5, width: 1350, height: 1560 },
    style: { fill: 'none', stroke: '#8a8a8a', lineWidth: 1.2 },
  });

  const legendBase = {
    data: ['HP', 'MSP'], orient: 'vertical', left: 648, itemWidth: 25, itemHeight: 12, itemGap: 5.4,
    icon: 'rect', selectedMode: false, padding: 0,
    textStyle: { fontSize: 17, color: '#222', fontFamily: FONT, lineHeight: 17 },
  };

  return {
    animation: false,
    backgroundColor: '#ffffff',
    textStyle: { fontFamily: FONT },
    legend: [{ ...legendBase, top: 102 }, { ...legendBase, top: 898 }],
    grid, xAxis, yAxis, series, graphic,
  };
}

export default function App() {
  const ref = useRef<HTMLDivElement>(null);
  useEffect(() => {
    document.body.style.margin = '0';
    const chart = echarts.init(ref.current as HTMLDivElement, undefined, { renderer: 'svg' });
    chart.setOption(buildOption() as any);
    return () => chart.dispose();
  }, []);
  return <div ref={ref} style={{ width: 1362, height: 1733, background: '#fff' }} />;
}
